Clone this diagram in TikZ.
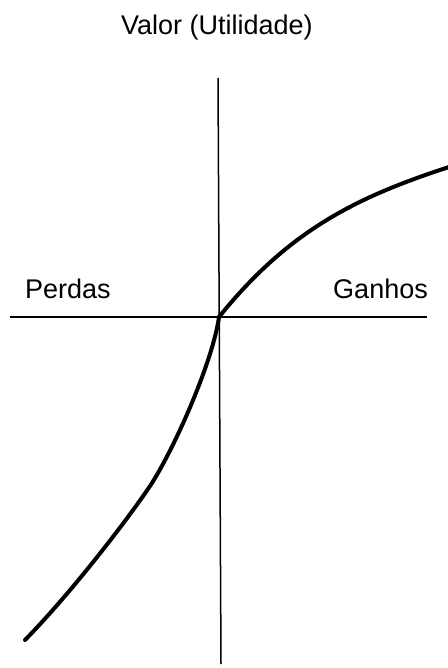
\documentclass[tikz,border=0pt]{standalone}
\usepackage{fontspec}
\setmainfont{Liberation Sans}
\begin{document}
\begin{tikzpicture}[x=1pt,y=-1pt,
  axis/.style={line width=1.5pt,black},
  curve/.style={line width=4pt,black,line cap=round},
  lbl/.style={inner sep=0pt,font=\fontsize{27}{32}\selectfont}]
\useasboundingbox (0,0) rectangle (447,668);
% axes
\coordinate (vtop) at (218,78);
\coordinate (vbot) at (221,664);
\coordinate (hleft) at (10,317);
\coordinate (hright) at (427,317);
\draw[axis] (vtop) -- (vbot);
\draw[axis] (hleft) -- (hright);
% curve
\coordinate (o) at (219,317);
\coordinate (g) at (449,167);
\coordinate (k) at (152,483);
\coordinate (l) at (25,640);
\draw[curve] (o) .. controls (289,230) and (357,197) .. (g);
\draw[curve] (o) .. controls (213,360) and (177,443) .. (k)
  .. controls (131,515) and (73,591) .. (l);
% labels
\node[lbl,anchor=base] (title) at (217,35) {Valor (Utilidade)};
\node[lbl,anchor=base west] (perdas) at (25,298) {Perdas};
\node[lbl,anchor=base east] (ganhos) at (428,298) {Ganhos};
\end{tikzpicture}
\end{document}
